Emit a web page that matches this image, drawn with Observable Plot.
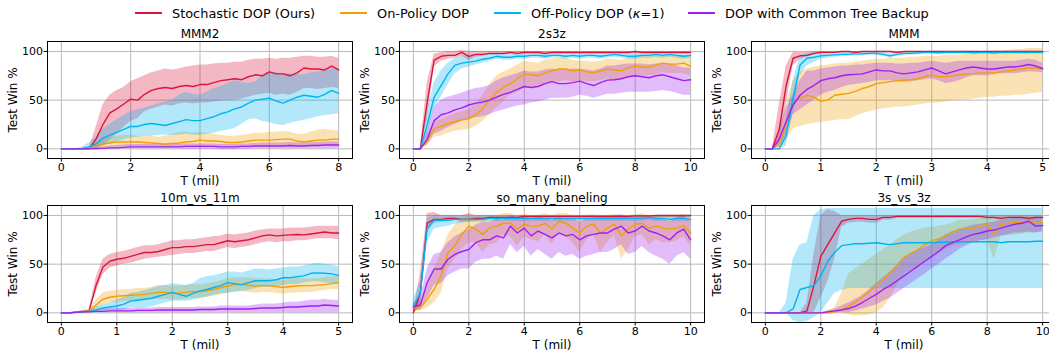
<!DOCTYPE html>
<html>
<head>
<meta charset="utf-8">
<script src="https://cdn.jsdelivr.net/npm/d3@7"></script>
<script src="https://cdn.jsdelivr.net/npm/@observablehq/plot@0.6"></script>
<style>
  html, body { margin: 0; padding: 0; background: #fff; overflow: hidden; }
  #chart { position: relative; width: 1049px; height: 351px; overflow: hidden; background: #fff; font-family: "DejaVu Sans", sans-serif; }
  .leg { position: absolute; top: 0; height: 26px; display: flex; align-items: center; font-size: 12.9px; color: #000; white-space: nowrap; }
  .leg .sw { display: inline-block; width: 27px; height: 2px; margin-right: 10px; }
</style>
</head>
<body>
<div id="chart"></div>
<script>
// ---------- sample positions (millions of steps) ----------
const T8 = [0,0.2,0.4,0.6,0.8,1,1.2,1.4,1.6,1.8,2,2.2,2.4,2.6,2.8,3,3.2,3.4,3.6,3.8,4,4.2,4.4,4.6,4.8,5,5.2,5.4,5.6,5.8,6,6.2,6.4,6.6,6.8,7,7.2,7.4,7.6,7.8,8];
const T10 = [0,0.25,0.5,0.75,1,1.25,1.5,1.75,2,2.25,2.5,2.75,3,3.25,3.5,3.75,4,4.25,4.5,4.75,5,5.25,5.5,5.75,6,6.25,6.5,6.75,7,7.25,7.5,7.75,8,8.25,8.5,8.75,9,9.25,9.5,9.75,10];
const T5 = [0,0.125,0.25,0.375,0.5,0.625,0.75,0.875,1,1.125,1.25,1.375,1.5,1.625,1.75,1.875,2,2.125,2.25,2.375,2.5,2.625,2.75,2.875,3,3.125,3.25,3.375,3.5,3.625,3.75,3.875,4,4.125,4.25,4.375,4.5,4.625,4.75,4.875,5];

// ---------- series names / colours ----------
const seriesNames = ["Stochastic DOP (Ours)", "On-Policy DOP", "Off-Policy DOP (κ=1)", "DOP with Common Tree Backup"];
const seriesColors = ["#dc143c", "#f29f05", "#00b4f0", "#a020f0"];
const panelTitles = ["MMM2", "2s3z", "MMM", "10m_vs_11m", "so_many_baneling", "3s_vs_3z"];
const yTicks = [0, 50, 100];

// ---------- MMM2 ----------
const MMM2_stoch    = [0,0,0,0,0,10,25,37,41,46,51,50,56,60,62,63,62,64,65,64,66,66,68,70,71,72,71,74,76,75,79,77,77,75,78,83,82,82,81,85,81];
const MMM2_stoch_lo = [0,0,0,0,0,0,3,9,15,22,28,31,38,41,43,45,44,46,47,46,47,47,48,49,49,50,51,53,55,56,57,55,56,55,58,62,62,61,62,63,62];
const MMM2_stoch_hi = [0,0,0,0,0.5,22,45,55,60,63,69,72,75,78,80,82,81,82,84,85,86,86,87,88,88,89,89,91,92,92,93,92,93,93,94,95,95,94,94,95,93];
const MMM2_on    = [0,0,0,0,0.5,3,5,6,7,7,7,7,6.5,6,5.5,5,5.5,6,7,7.5,9,8,8,7.5,6.5,6.5,7,8,9,9,9,9.5,10,10,8,7,8,9,9,10,10];
const MMM2_on_lo = [0,0,0,0,0,0.5,1,1,1.5,2,2,2,2,2,1.5,1.5,1.5,2,2,2,2.5,2.5,2.5,2,2,2,2,2,2.5,2.5,3,3,3,3,2.5,2.5,3,3,3,3,3];
const MMM2_on_hi = [0,0,0,0,1,6,10,12,13,14,14,13,13,13,12,13,15,17,17,16,17,16,15,14,13,13,14,15,16,16,17,17,18,17,15,15,17,19,20,19,18];
const MMM2_off    = [0,0,0,0.5,2,5,11,14,17,20,23,23,25,26,25,24,26,28,30,29,29,31,33,36,38,41,43,47,50,51,52,49,47,50,53,55,54,53,56,60,57];
const MMM2_off_lo = [0,0,0,0,0,1,3,5,7,9,11,12,13,13,14,14,14,14,15,14,14,15,16,18,19,21,25,30,31,28,27,25,24,26,28,29,31,33,34,35,36];
const MMM2_off_hi = [0,0,0,2,6,12,20,25,30,34,38,40,42,44,46,48,50,55,58,56,55,58,62,64,67,70,68,67,69,75,79,78,77,77,76,76,78,79,80,82,82];
const MMM2_tree    = [0,0,0,0,0,0.3,0.5,1,1,1.5,2,2,2,2,2,2,2,2,2.5,2.5,2.5,2.5,2.5,2,2,2,2.5,2.5,3,3,3,3,3,3.5,3,3,3.5,3.5,4,4,4];
const MMM2_tree_lo = [0,0,0,0,0,0,0,0,0,0,0,0,0,0,0,0,0,0,-0.5,-0.5,-0.5,-0.5,-0.5,-1,-1,-1,-0.5,-0.5,0,0,0,0,0,0,0,0,0,0,0,0,0];
const MMM2_tree_hi = [0,0,0,0,0,1,2,3,3.5,4,4.5,4.5,4.5,4.5,4.5,4.5,4.5,4.5,5,5,5,5,5,4.5,4.5,4.5,5,5,5.5,6,6,6,6,6.5,6,6,6.5,6.5,7,7,7];

// ---------- 2s3z ----------
const S2s3z_stoch    = [0,0,48,91,95,96,96,99,95,97,97,98,98,98,99,98,99,99,99,98,99,99,99,99,99,99,99,99,99,99,99,99,100,99,99,99,99,99,99,99,99];
const S2s3z_stoch_lo = [0,0,30,84,90,92,93,95,91,94,95,96,96,96,97,96,97,97,97,96,97,97,97,97,97,97,97,97,97,97,97,97,98,97,97,97,97,97,97,97,97];
const S2s3z_stoch_hi = [0,0.5,68,97,99,100,100,101,100,100,100,100,100,100,100,100,100,100,100,100,100,100,100,100,100,100,100,100,100,100,100,100,100,100,100,100,100,100,100,100,100];
const S2s3z_on    = [0,0,8,21,23,26,28,30,31,35,41,50,58,63,67,72,77,76,75,78,80,82,82,80,81,79,78,80,82,81,80,83,85,84,84,86,88,87,87,88,85];
const S2s3z_on_lo = [0,0,3,12,13,16,18,19,20,23,28,35,42,48,55,58,62,63,64,66,68,69,70,69,70,69,69,70,72,71,71,73,74,74,75,76,78,77,77,77,75];
const S2s3z_on_hi = [0,0,13,28,30,33,36,38,40,46,55,66,75,79,82,86,90,89,88,91,92,93,93,91,90,90,89,90,92,92,91,93,95,95,95,96,96,96,96,96,95];
const S2s3z_off    = [0,0,25,53,65,77,86,88,89,90,92,93,95,94,94,95,95,96,96,95,96,96,95,96,95,96,96,95,96,97,96,95,95,96,96,97,96,97,96,95,96];
const S2s3z_off_lo = [0,0,12,42,53,66,77,82,84,86,88,90,92,91,91,92,92,93,93,92,93,93,92,93,92,93,93,92,93,94,93,92,92,93,93,94,93,94,93,92,93];
const S2s3z_off_hi = [0,0.5,38,68,80,88,93,95,96,96,97,97,98,97,97,98,98,99,99,98,99,99,98,99,99,99,99,98,99,99,99,98,98,99,99,100,99,100,99,98,99];
const S2s3z_tree    = [0,0,10,29,35,37,40,42,45,47,48,50,53,56,58,61,64,63,64,67,69,67,67,68,69.5,67,65,68,70.5,71,72,74,75,74,73,75,76,74,72,70,71];
const S2s3z_tree_lo = [0,0,4,15,18,22,25,28,30,32,33,35,38,40,42,44,45,47,48,50,52,52,52,53,55,54,52,54,56,56,57,58,58,58,58,59,60,59,57,55,55];
const S2s3z_tree_hi = [0,0,18,43,50,53,55,57,60,62,63,65,70,73,75,77,80,79,79,81,82,81,81,82,82,81,80,82,85,85,86,87,87,87,86,87,88,87,85,83,83];

// ---------- MMM ----------
const MMM_stoch    = [0,0,20,65,93,95.5,96,98,99,99,99,100,100,99,100,100,100,100,100,99,100,100,100,100,100,100,100,100,100,100,100,100,100,100,100,100,100,100,100,100,100];
const MMM_stoch_lo = [0,0,5,45,85,92,94,96,97.5,98,98,99,99,98,99,99,99,99,99,98,99,99,99,99,99,99,99,99,99,99,99,99,99,99,99,99,99,99,99,99,99];
const MMM_stoch_hi = [0,0,45,85,99,99,99,100,100,100,100,100,100,100,100,100,100,100,100,100,100,100,100,100,100,100,100,100,100,100,100,100,100,100,100,100,100,100,100,100,100];
const MMM_on    = [0,0,5,25,47,52,55,53,49,50,55,56,57,59,62,64,67,68,69,70,70.5,71,72,74,76,74,74,75,76,77,77,78,78,78,79,80,81,82,83,83,82];
const MMM_on_lo = [0,0,0,8,20,23,25,26,27,28,29,30,30,33,36,38,40,41,42,43,43,44,45,46,47,47,48,49,50,50,51,52,53,53,54,54,55,55,56,57,58];
const MMM_on_hi = [0,0,12,45,70,78,82,84,85,86,87,88,88,89,90,91,92,92,93,93,93,94,94,95,95,95,96,96,96,97,97,98,98,99,100,101,102,102,103,103,103];
const MMM_off    = [0,0,0,14,52,86,93,94,95.5,96,96.5,97,97,97.5,97.5,98,98,97,95.5,97,98,98,98.5,99,99,98.5,99,99,99,99,98.5,99,99,98.5,99,99,99,99,99,99,99];
const MMM_off_lo = [0,0,0,3,35,75,85,89,92,93,94,95,95,95.5,95.5,96,96,95,93,95,96,96,96.5,97,97,96.5,97,97,97,97,96.5,97,97,96.5,97,97,97,97,97,97,97];
const MMM_off_hi = [0,0,0,28,70,95,98,98.5,99,99,99,99,99,99.5,99.5,100,100,99,98,99,100,100,100,100,100,100,100,100,100,100,100,100,100,100,100,100,100,100,100,100,100];
const MMM_tree    = [0,0,10,28,45,55,61,65,70,72,73,75,76,76.5,77,79,81,80,80,78,77,78,79,81,83,80,77,79,81,83,84,83,82,82,83,84,84,85,86.6,85,82.5];
const MMM_tree_lo = [0,0,2,15,35,40,45,50,55,58,60,63,65,66,67,68,70,70,70,69,68,69,70,71,72,70,67,68,70,73,75,75,75,76,77,77,77,78,79,79,78];
const MMM_tree_hi = [0,0,20,42,55,70,80,80,82,83,84,85,85,86,86,87,88,88,88,87,87,88,88,89,90,89,88,89,90,90,90,90,90,90,90,90,90,91,92,91,88];

// ---------- 10m_vs_11m ----------
const M10_stoch    = [0,0,0.5,1,2,28,47,53,55,56,58,60,62,62,63,65,67,67,68,68,69,70,70,72,74,73,74,75,77,79,80,79,79.5,80,80.5,80,81,82,83,82,82];
const M10_stoch_lo = [0,0,0,0,1,20,39,46,48,50,51,53,55,56,57,58,59,60,61,61,62,63,63,65,67,66,67,68,70,72,73,72,73,73,74,74,75,76,76,76,75];
const M10_stoch_hi = [0,0,1,2,3,36,55,60,62,63,65,67,69,69,70,72,74,74,75,75,76,77,78,79,81,80,81,82,84,85,86,86,86,87,87,87,88,89,89,89,89];
const M10_on    = [0,0,0.5,1,2,8,14,16,17,17.5,18,18.5,19,20,21,21,20,20.5,21,22,21.5,23,24,26,27.6,29,29,28.5,27.6,28,28,27,26,27,27.6,28,28,28.5,29,30,31];
const M10_on_lo = [0,0,0,0.5,1,3,8,10,11,11.5,12,12.5,13,13.5,14,14,13,13.5,14,15,14.5,16,17,19,20,22,22,21,20,21,21,20,19,20,20.5,21,21,22,23,24,24];
const M10_on_hi = [0,0,1,2,3,13,20,22,23,24,24,25,25,26,28,28,27,27.5,28,29,28.5,30,31,33,35,36,36,36,35,35,35,34,33,34,35,35,35,35,36,37,38];
const M10_off    = [0,0,0.5,1,1.5,3,5,6,7,9,12,13,14,15,17,19,21,19,17,20,22.5,24,26,28,31,30,29,31,33,33,33,34,36,36,37,38,40.6,41,40.6,40,38.5];
const M10_off_lo = [0,0,0,0,0.5,1,2,2,2,3,5,5,5,6,8,10,12,12,12,13,15,16,18,19,20,21,22,23,25,26,26,27,28,29,29,31,32,32,31,30,30];
const M10_off_hi = [0,0,1,2,3,6,8,10,13,16,20,21,23,25,27,28,30,29,28,30,35,37,38,40,42,42,41,43,45,45,44,45,46,47,47,48,50,51,50,49,47];
const M10_tree    = [0,0,0.5,1,1,1.5,1.5,2,2,2,2,2.5,2.5,2.5,3,3,3,3,3,3,3.5,3.5,3.5,4,4,4,4,4,4.5,5,5,5,5.5,6,6,6.5,7,7,8,7.5,7];
const M10_tree_lo = [0,0,0,0,0,0,0,0,0,0,0,0,0,0,0,0,0,0,0,0,0,0,0,0,0,0,0,0,0,0,0,0,0,0,0,0,0,0,0,0,0];
const M10_tree_hi = [0,0,1,2,2,3,4,4,4.5,4.5,4.5,5,5,5,5.5,5.5,5.5,5.5,5.5,5.5,6,6,6,7,7,7,7,7,8,9,9,9,10,11,11,12,13,13,14,13,13];

// ---------- so_many_baneling ----------
const SMB_stoch    = [0,20,92,96,96,97,97,96,96,97,97,98,98,98,98,98,99,99,99,99,99,99,99,99,99,99,99,99,99,99,99,99,99.5,99.5,99.5,100,100,100,100,100,100];
const SMB_stoch_lo = [0,5,82,92,93,94,95,93,93,94,95,96,96,96,96,96,97,97,97,97,97,97,97,97,97,97,97,97,97,97,97,97,98,98,98,98,98,98,98,98,98];
const SMB_stoch_hi = [0,40,102,103,100,100,100,100,102,100,100,100,100,100,100,100,100,100,100,100,100,100,100,100,100,100,100,100,100,100,100,100,100,100,100,100,100,100,100,100,100];
const SMB_on    = [5,5,14,24,38,62,69,80.5,89,86,80.5,87,89,92,92,86,91,89,89,92,86,94,92,87,82,89,91,82,87,91,79,86,91,92,87,89,87,86,87,89.6,82];
const SMB_on_lo = [2,2,5,10,20,45,55,65,72,72,62,70,72,80,78,68,78,75,73,80,70,82,78,72,62,75,80,62,72,80,55,65,78,80,70,75,72,72,74,78,68];
const SMB_on_hi = [8,8,25,45,62,80,90,96,100,100,98,100,100,102,102,100,101,100,100,102,100,102,102,100,98,100,101,98,100,101,98,100,101,102,100,100,100,100,100,101,98];
const SMB_off    = [7,20,87,95,95,95,96,96,96,96,96,97,97,97,97,97,97,97,97,97,97,97,97,97,97,97,97,97,97,97,97,97,97,97,98,97,97,96,97,97,96];
const SMB_off_lo = [2,8,72,86,88,89,91,92,93,93,93,94,94,94,94,94,94,94,94,94,94,94,94,94,94,94,94,94,94,94,94,94,94,94,95,94,94,93,94,94,93];
const SMB_off_hi = [14,32,97,100,100,100,100,100,100,100,100,100,100,100,100,100,100,100,100,100,100,100,100,100,100,100,100,100,100,100,100,100,100,100,100,100,100,100,100,100,100];
const SMB_tree    = [6,8,31,45,45,55,60,63,65,72,75,75,79,77,89,82,87,79,84,80.5,77,82,79,80.5,75,79,80.5,82,82,86,89,82,84,89,84,82,79,75,82,86,75];
const SMB_tree_lo = [2,3,15,28,30,38,42,45,45,52,55,55,58,55,70,62,68,58,65,60,55,62,58,60,55,58,60,62,62,65,70,60,62,68,62,58,55,50,58,62,55];
const SMB_tree_hi = [10,14,45,60,62,72,78,82,85,90,93,93,96,95,100,98,100,96,99,97,95,98,96,97,93,96,97,98,98,100,101,98,99,100,99,98,96,93,98,100,93];

// ---------- 3s_vs_3z ----------
const S3_stoch    = [0,0,0,0,0,0,2,28,58,70,82,94,96,97,97,96,96,98,98,99,99,99,99,99,99,99,99,99,99,99,99,99,98,98,97,98,98,98,97,98,98];
const S3_stoch_lo = [0,0,0,0,0,0,0,0,15,32,55,88,92,93,93,92,92,95,95,97,97,97,97,97,97,97,97,97,97,97,97,97,96,96,95,96,96,96,95,96,96];
const S3_stoch_hi = [0,0,0,0,0,0,10,60,100,106,104,100,100,100,100,100,100,100,100,100,100,100,100,100,100,100,100,100,100,100,100,100,100,100,100,100,100,100,100,100,100];
const S3_on    = [0,0,0,0,0,0,0,0,0,0,1,3,7,11,16,22,28,34,41,49,57,61,65,70,74,76,79,83,86,86,87,89,91,81,91,92,92.5,93,94,92,92.5];
const S3_on_lo = [0,0,0,0,0,0,0,0,0,0,0,0,-2,-3,-3,-2,0,5,15,28,40,44,48,53,58,62,65,68,70,71,72,74,75,55,78,80,80,81,82,82,85];
const S3_on_hi = [0,0,0,0,0,0,0,0,0,2,5,20,40,45,50,55,60,65,70,75,80,83,85,87,88,89,90,92,95,95,96,97,98,97,99,100,100,100,100,99,99];
const S3_off    = [0,0,0,0,4,24,26,28,38,53,62,69,70,71,71,71.5,72,71,70,71,72,72,72,72,72,72.5,72.5,73,73,73,73,73,73,73,72,73,73,73,73,73.5,73.5];
const S3_off_lo = [0,0,0,0,-8,-10,-9,-5,0,10,20,23,25,25,25,25,25,25,25,25,25,25,25,25,25,25,25,25,25,25,25,25,25,25,25,25,25,25,25,25,25];
const S3_off_hi = [0,0,0,10,55,70,72,100,106,107,107,107,107,107,107,107,107,107,107,107,107,107,107,107,107,107,107,107,107,107,107,107,107,107,107,107,107,107,107,107,107];
const S3_tree    = [0,0,0,0,0,0,0,0,0,1,2,3,4.5,7,10.6,15,19,24,28,33,38,43,48,53,58,63,69,72,75,78,80.5,82,84,85,87,89,91,92,94,89,89.6];
const S3_tree_lo = [0,0,0,0,0,0,0,0,0,0,0,0,0,2,4,6,8,12,15,20,25,30,35,40,45,50,55,60,65,69,72,74,75,77,79,80,82,82,83,82,83];
const S3_tree_hi = [0,0,0,0,0,0,0,0,0,2,4,7,10,14,18,24,30,36,42,48,55,60,64,67,70,75,80,83,85,88,90,91,92,93,95,96,97,97,98,97,97];

// ---------- layout ----------
const ML = 48, MR = 10, MT = 20, MB = 32, FW = 305, FH = 117;
const chart = document.getElementById("chart");

function panel(title, T, xmax, xticks, S, frameLeft, frameTop) {
  const pad = xmax * 0.05;
  const marks = [
    Plot.gridX(xticks, {stroke: "#b9b9b9", strokeOpacity: 1, strokeWidth: 1}),
    Plot.gridY(yTicks, {stroke: "#b9b9b9", strokeOpacity: 1, strokeWidth: 1})
  ];
  const rowsList = S.map(s => T.map((t, i) => ({t, m: s.mean[i], lo: s.lo[i], hi: s.hi[i]})));
  S.forEach((s, k) => marks.push(Plot.areaY(rowsList[k], {x: "t", y1: "lo", y2: "hi", fill: s.color, fillOpacity: 0.3, clip: true})));
  S.forEach((s, k) => marks.push(Plot.lineY(rowsList[k], {x: "t", y: "m", stroke: s.color, strokeWidth: 1.4, clip: true})));
  marks.push(Plot.frame({stroke: "#000", strokeWidth: 1}));
  marks.push(Plot.axisX(xticks, {tickSize: 3.5, tickPadding: 1, fontSize: 11, label: null}));
  marks.push(Plot.axisY(yTicks, {tickSize: 3.5, tickPadding: 1, fontSize: 11, label: null}));
  marks.push(Plot.text([title], {text: d => d, frameAnchor: "top", lineAnchor: "bottom", dy: -3.5, fontSize: 12}));
  marks.push(Plot.text(["T (mil)"], {text: d => d, frameAnchor: "bottom", lineAnchor: "middle", dy: 22.3, fontSize: 12}));
  marks.push(Plot.text(["Test Win %"], {text: d => d, frameAnchor: "left", textAnchor: "middle", lineAnchor: "middle", rotate: -90, dx: -34, fontSize: 12}));
  const svg = Plot.plot({
    width: ML + FW + MR, height: MT + FH + MB,
    marginLeft: ML, marginRight: MR, marginTop: MT, marginBottom: MB,
    x: {domain: [-pad, xmax + pad], label: null},
    y: {domain: [-9.9, 110.2], label: null},
    style: {fontFamily: "'DejaVu Sans', sans-serif", fontSize: "11px", color: "#000", background: "none", overflow: "visible"},
    marks
  });
  svg.style.position = "absolute";
  svg.style.left = (frameLeft - ML) + "px";
  svg.style.top = (frameTop - MT) + "px";
  chart.appendChild(svg);
}

function S4(a, b, c, d) {
  return [a, b, c, d].map((x, k) => ({color: seriesColors[k], mean: x[0], lo: x[1], hi: x[2]}));
}

const colLeft = [47.3, 399, 750.7];
const rowTop = [41, 205];

panel(panelTitles[0], T8, 8, [0,2,4,6,8],
  S4([MMM2_stoch, MMM2_stoch_lo, MMM2_stoch_hi], [MMM2_on, MMM2_on_lo, MMM2_on_hi], [MMM2_off, MMM2_off_lo, MMM2_off_hi], [MMM2_tree, MMM2_tree_lo, MMM2_tree_hi]),
  colLeft[0], rowTop[0]);
panel(panelTitles[1], T10, 10, [0,2,4,6,8,10],
  S4([S2s3z_stoch, S2s3z_stoch_lo, S2s3z_stoch_hi], [S2s3z_on, S2s3z_on_lo, S2s3z_on_hi], [S2s3z_off, S2s3z_off_lo, S2s3z_off_hi], [S2s3z_tree, S2s3z_tree_lo, S2s3z_tree_hi]),
  colLeft[1], rowTop[0]);
panel(panelTitles[2], T5, 5, [0,1,2,3,4,5],
  S4([MMM_stoch, MMM_stoch_lo, MMM_stoch_hi], [MMM_on, MMM_on_lo, MMM_on_hi], [MMM_off, MMM_off_lo, MMM_off_hi], [MMM_tree, MMM_tree_lo, MMM_tree_hi]),
  colLeft[2], rowTop[0]);
panel(panelTitles[3], T5, 5, [0,1,2,3,4,5],
  S4([M10_stoch, M10_stoch_lo, M10_stoch_hi], [M10_on, M10_on_lo, M10_on_hi], [M10_off, M10_off_lo, M10_off_hi], [M10_tree, M10_tree_lo, M10_tree_hi]),
  colLeft[0], rowTop[1]);
panel(panelTitles[4], T10, 10, [0,2,4,6,8,10],
  S4([SMB_stoch, SMB_stoch_lo, SMB_stoch_hi], [SMB_on, SMB_on_lo, SMB_on_hi], [SMB_off, SMB_off_lo, SMB_off_hi], [SMB_tree, SMB_tree_lo, SMB_tree_hi]),
  colLeft[1], rowTop[1]);
panel(panelTitles[5], T10, 10, [0,2,4,6,8,10],
  S4([S3_stoch, S3_stoch_lo, S3_stoch_hi], [S3_on, S3_on_lo, S3_on_hi], [S3_off, S3_off_lo, S3_off_hi], [S3_tree, S3_tree_lo, S3_tree_hi]),
  colLeft[2], rowTop[1]);

// ---------- legend ----------
const legendLeft = [135, 340, 494, 688];
seriesNames.forEach((name, k) => {
  const item = document.createElement("div");
  item.className = "leg";
  item.style.left = legendLeft[k] + "px";
  const sw = document.createElement("span");
  sw.className = "sw";
  sw.style.background = seriesColors[k];
  item.appendChild(sw);
  const label = document.createElement("span");
  if (name.includes("κ")) {
    const parts = name.split("κ");
    label.appendChild(document.createTextNode(parts[0]));
    const it = document.createElement("i");
    it.textContent = "κ";
    label.appendChild(it);
    label.appendChild(document.createTextNode(parts[1]));
  } else {
    label.textContent = name;
  }
  item.appendChild(label);
  chart.appendChild(item);
});
</script>
</body>
</html>
